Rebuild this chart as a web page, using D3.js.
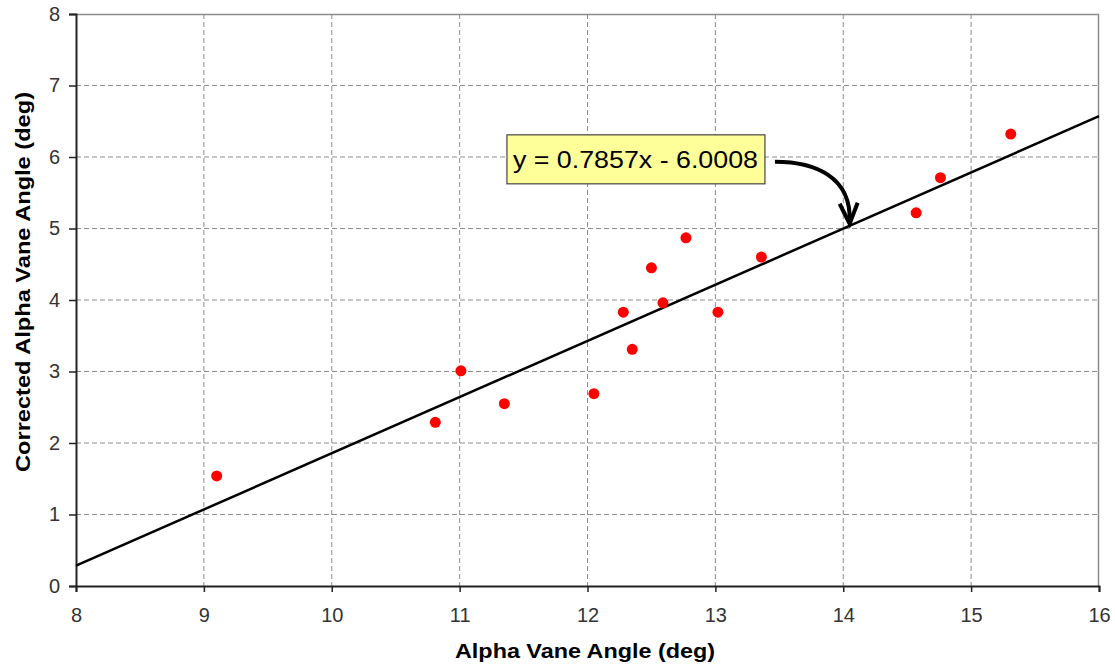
<!DOCTYPE html>
<html>
<head>
<meta charset="utf-8">
<script src="https://cdn.jsdelivr.net/npm/d3@7"></script>
<style>
	body { margin: 0; background: #fff; }
	#chart { width: 1115px; height: 669px; }
</style>
</head>
<body>
<div id="chart"></div>
<script>
// Data
const alphaVane = [9.10, 10.81, 11.01, 11.35, 12.05, 12.28, 12.35, 12.50, 12.59, 12.77, 13.02, 13.36, 14.57, 14.76, 15.31]
const correctedAlpha = [1.54, 2.29, 3.01, 2.55, 2.69, 3.83, 3.31, 4.45, 3.96, 4.87, 3.83, 4.60, 5.22, 5.71, 6.32]
const xTicks = [8, 9, 10, 11, 12, 13, 14, 15, 16]
const yTicks = [0, 1, 2, 3, 4, 5, 6, 7, 8]
const fitSlope = 0.7857
const fitIntercept = -6.0008
const fitLabel = "y = 0.7857x - 6.0008"

function renderChart() {
	const W = 1115
	const H = 669
	const margin = { top: 14, right: 16, bottom: 83, left: 76 }
	const width = W - margin.left - margin.right
	const height = H - margin.top - margin.bottom
	const font = "Arial, 'Liberation Sans', sans-serif"

	const svg = d3
		.select("#chart")
		.append("svg")
		.attr("width", W)
		.attr("height", H)
		.append("g")
		.attr("transform", `translate(${margin.left},${margin.top})`)

	const x = d3.scaleLinear().domain([8, 16]).range([0, width])
	const y = d3.scaleLinear().domain([0, 8]).range([height, 0])

	// Gridlines (dashed)
	svg.append("g")
		.selectAll("line")
		.data(yTicks.slice(1, -1))
		.join("line")
		.attr("x1", 0)
		.attr("x2", width)
		.attr("y1", (d) => y(d))
		.attr("y2", (d) => y(d))
		.style("stroke", "#8c8c8c")
		.style("stroke-width", "1px")
		.style("stroke-dasharray", "5,3")

	svg.append("g")
		.selectAll("line")
		.data(xTicks.slice(1, -1))
		.join("line")
		.attr("x1", (d) => x(d))
		.attr("x2", (d) => x(d))
		.attr("y1", 0)
		.attr("y2", height)
		.style("stroke", "#8c8c8c")
		.style("stroke-width", "1px")
		.style("stroke-dasharray", "5,3")

	// Plot area border (top and right)
	svg.append("path")
		.attr("d", `M0,0.5H${width - 0.5}V${height}`)
		.attr("fill", "none")
		.style("stroke", "#8c8c8c")
		.style("stroke-width", "1.5px")

	// Axes
	svg.append("g")
		.attr("class", "x-axis")
		.attr("transform", `translate(0,${height})`)
		.call(d3.axisBottom(x).tickValues(xTicks).tickSize(6).tickPadding(16))

	svg.append("g")
		.attr("class", "y-axis")
		.call(d3.axisLeft(y).tickValues(yTicks).tickSize(7).tickPadding(9))

	svg.selectAll(".x-axis path, .y-axis path")
		.style("stroke", "#222")
		.style("stroke-width", "2px")
	svg.selectAll(".x-axis line, .y-axis line")
		.style("stroke", "#222")
		.style("stroke-width", "1.5px")
	svg.selectAll(".x-axis text, .y-axis text")
		.style("font-size", "20px")
		.style("font-family", font)
		.style("fill", "#333")

	// Trend line
	const fitLine = d3.line()
		.x((d) => x(d))
		.y((d) => y(fitSlope * d + fitIntercept))

	svg.append("path")
		.datum(x.domain())
		.attr("fill", "none")
		.attr("stroke", "#000")
		.attr("stroke-width", 2.5)
		.attr("d", fitLine)

	// Points
	svg.append("g")
		.selectAll("circle")
		.data(alphaVane.map((v, i) => ({ x: v, y: correctedAlpha[i] })))
		.join("circle")
		.attr("cx", (d) => x(d.x))
		.attr("cy", (d) => y(d.y))
		.attr("r", 5.5)
		.attr("fill", "#ff0000")

	// Equation label box
	const boxX = x(11.37)
	const boxY = y(6.31)
	const boxW = 258
	const boxH = 49
	const label = svg.append("g").attr("transform", `translate(${boxX},${boxY})`)
	label.append("rect")
		.attr("width", boxW)
		.attr("height", boxH)
		.attr("fill", "#ffff99")
		.attr("stroke", "#444")
		.attr("stroke-width", 1.2)
	label.append("text")
		.attr("x", 6)
		.attr("y", 33)
		.attr("textLength", 245)
		.attr("lengthAdjust", "spacingAndGlyphs")
		.style("font-size", "23px")
		.style("font-family", font)
		.text(fitLabel)

	// Curved arrow to the fit line
	const tipX = x(14.05)
	const tipY = y(fitSlope * 14.05 + fitIntercept)
	const startX = boxX + boxW + 10
	const startY = boxY + 27
	svg.append("path")
		.attr("d", `M${startX},${startY} C${startX + 40},${startY} ${tipX + 2},${startY + 15} ${tipX},${tipY - 4}`)
		.attr("fill", "none")
		.attr("stroke", "#000")
		.attr("stroke-width", 4)
	svg.append("path")
		.attr("d", `M${tipX - 10},${tipY - 22} L${tipX},${tipY - 2} L${tipX + 8},${tipY - 23}`)
		.attr("fill", "none")
		.attr("stroke", "#000")
		.attr("stroke-width", 4)
		.attr("stroke-linejoin", "miter")

	// Axis titles
	svg.append("text")
		.attr("x", 509)
		.attr("y", height + 72)
		.attr("text-anchor", "middle")
		.attr("textLength", 260)
		.attr("lengthAdjust", "spacingAndGlyphs")
		.style("font-size", "20px")
		.style("font-weight", "bold")
		.style("font-family", font)
		.text("Alpha Vane Angle (deg)")

	svg.append("text")
		.attr("transform", `translate(-46,268) rotate(-90)`)
		.attr("text-anchor", "middle")
		.attr("textLength", 380)
		.attr("lengthAdjust", "spacingAndGlyphs")
		.style("font-size", "20px")
		.style("font-weight", "bold")
		.style("font-family", font)
		.text("Corrected Alpha Vane Angle (deg)")
}

renderChart()
</script>
</body>
</html>
